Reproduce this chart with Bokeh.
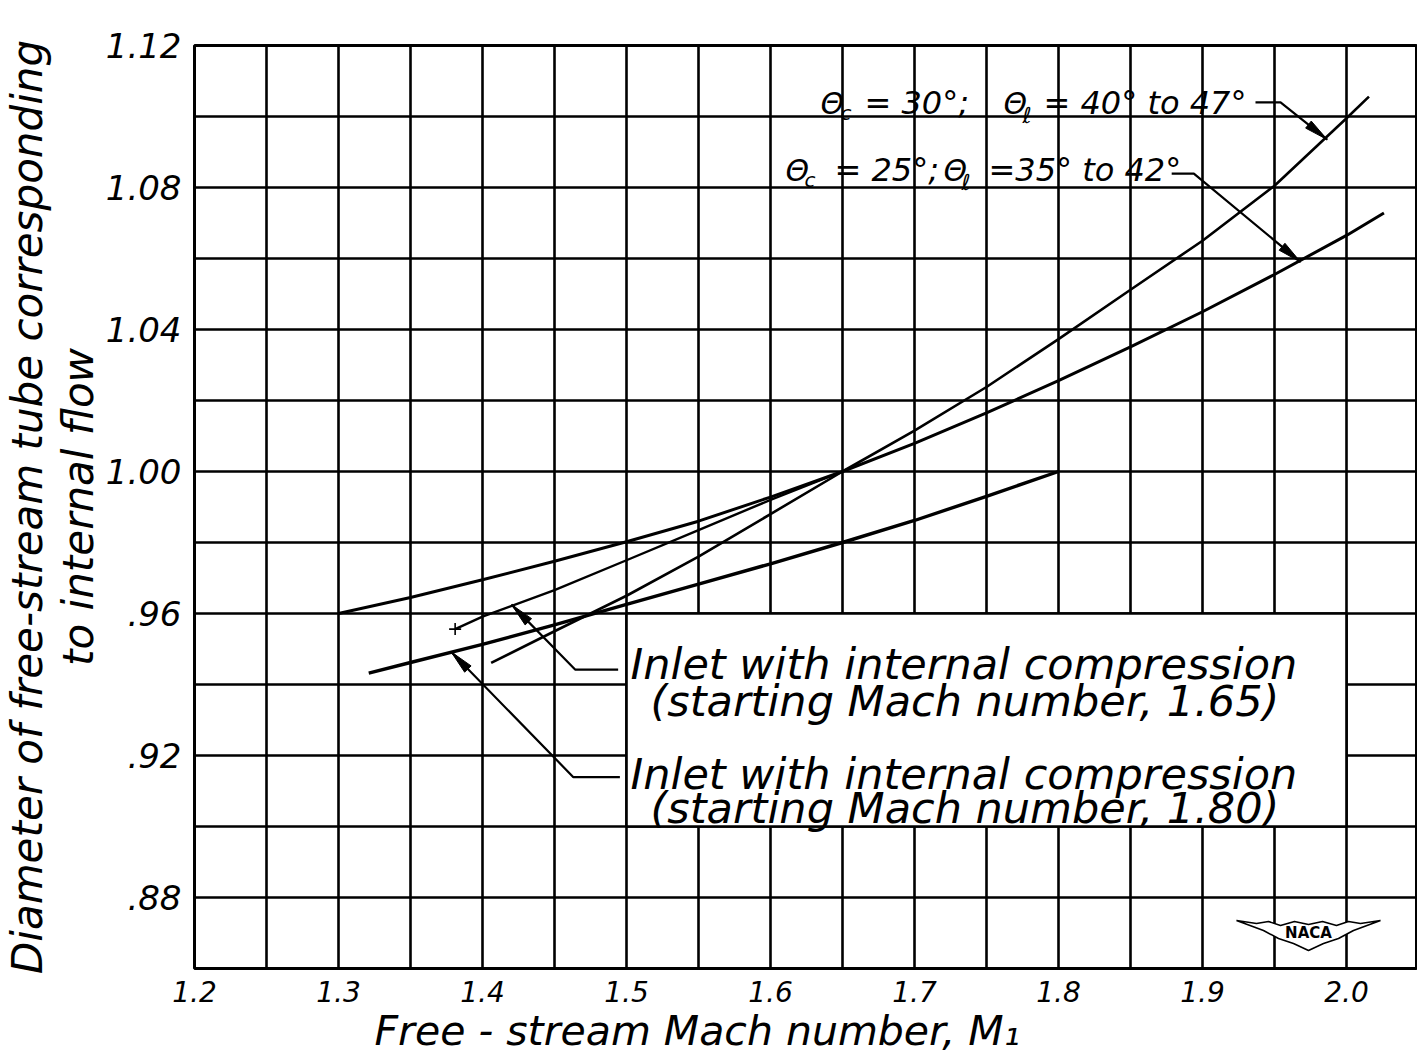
import math
from bokeh.plotting import figure
from bokeh.models import FixedTicker, ColumnDataSource, Title
from bokeh.core.properties import value
from bokeh.embed import file_html
from bokeh.resources import INLINE

# ---------------- data ----------------
# theta_c = 25 deg ; theta_l = 35 to 42 deg
M_25 = [1.30, 1.35, 1.40, 1.45, 1.50, 1.55, 1.60, 1.65, 1.70, 1.75, 1.80, 1.85, 1.90, 1.95, 2.00, 2.026]
D_25 = [0.9600, 0.9645, 0.9695, 0.9747, 0.9802, 0.9860, 0.9928, 1.0000, 1.0079, 1.0165, 1.0256, 1.0351, 1.0450, 1.0555, 1.0665, 1.0728]
# theta_c = 30 deg ; theta_l = 40 to 47 deg
M_30 = [1.406, 1.45, 1.50, 1.55, 1.60, 1.65, 1.70, 1.75, 1.80, 1.85, 1.90, 1.95, 2.00, 2.0156]
D_30 = [0.9461, 0.9550, 0.9650, 0.9760, 0.9880, 1.0000, 1.0115, 1.0238, 1.0373, 1.0512, 1.0650, 1.0805, 1.0995, 1.1056]
# inlet with internal compression, starting Mach number 1.65
M_165 = [1.381, 1.40, 1.45, 1.50, 1.55, 1.60, 1.65]
D_165 = [0.9556, 0.9591, 0.9666, 0.9750, 0.9835, 0.9920, 1.0000]
# inlet with internal compression, starting Mach number 1.80
M_180 = [1.321, 1.35, 1.40, 1.45, 1.50, 1.55, 1.60, 1.65, 1.70, 1.75, 1.80]
D_180 = [0.9432, 0.9462, 0.9513, 0.9568, 0.9626, 0.9683, 0.9740, 0.9800, 0.9862, 0.9930, 1.0000]

X_TICKS = [1.2, 1.3, 1.4, 1.5, 1.6, 1.7, 1.8, 1.9, 2.0]
X_TICK_LABELS = ["1.2", "1.3", "1.4", "1.5", "1.6", "1.7", "1.8", "1.9", "2.0"]
Y_TICKS = [0.88, 0.92, 0.96, 1.00, 1.04, 1.08, 1.12]
Y_TICK_LABELS = [".88", ".92", ".96", "1.00", "1.04", "1.08", "1.12"]

X_LABEL = "Free - stream  Mach number, M\u2081"
Y_LABEL_1 = "Diameter of free-stream tube corresponding"
Y_LABEL_2 = "to internal flow"
NOTE_165 = ["Inlet with internal compression", "(starting Mach number, 1.65)"]
NOTE_180 = ["Inlet with internal compression", "(starting Mach number, 1.80)"]

# ---------------- layout ----------------
W, H = 1417, 1055
L_B, R_B, T_B, B_B = 194, 0, 45, 87
X0, PXX = 1.2, 1440.0
Y0, Y1 = 0.86, 1.12
FW, FH = W - L_B - R_B, H - T_B - B_B
X1 = X0 + FW / PXX
PXY = FH / (Y1 - Y0)
BASE_FIX = 0.36  # empirical shift of the alphabetic baseline (fraction of font size)


def px2x(px):
    return X0 + (px - L_B) / PXX


def py2y(py):
    return Y1 - (py - T_B) / PXY


def base_y(py, size):
    return py2y(py - BASE_FIX * size)


FONT = "DejaVu Sans"

p = figure(width=W, height=H, x_range=(X0, X1), y_range=(Y0, Y1),
           output_backend="svg", toolbar_location=None,
           min_border_left=L_B, min_border_right=R_B,
           min_border_top=T_B, min_border_bottom=B_B)
p.background_fill_color = "white"
p.border_fill_color = "white"
p.outline_line_color = "black"
p.outline_line_width = 3

# grid every 0.05 in M and 0.02 in diameter
p.xgrid.ticker = FixedTicker(ticks=[round(1.2 + 0.05 * i, 2) for i in range(18)])
p.ygrid.ticker = FixedTicker(ticks=[round(0.86 + 0.02 * i, 2) for i in range(14)])
p.grid.grid_line_color = "black"
p.grid.grid_line_width = 2.6
p.grid.grid_line_alpha = 1.0

p.xaxis.ticker = FixedTicker(ticks=X_TICKS)
p.yaxis.ticker = FixedTicker(ticks=Y_TICKS)
p.xaxis.major_label_overrides = dict(zip(X_TICKS, X_TICK_LABELS))
p.yaxis.major_label_overrides = dict(zip(Y_TICKS, Y_TICK_LABELS))
p.axis.axis_line_color = None
p.axis.major_tick_line_color = None
p.axis.minor_tick_line_color = None
p.axis.major_label_text_font = FONT
p.axis.major_label_text_font_style = "italic"
p.axis.major_label_text_color = "black"
p.xaxis.major_label_text_font_size = "28px"
p.yaxis.major_label_text_font_size = "34px"
p.xaxis.major_label_standoff = 6
p.yaxis.major_label_standoff = 7

# axis titles
p.add_layout(Title(text=X_LABEL, align="left", offset=180, text_font=FONT, text_font_style="italic",
                   text_font_size="41px", text_color="black", standoff=0), "below")
p.add_layout(Title(text=Y_LABEL_2, align="center", text_font=FONT, text_font_style="italic",
                   text_font_size="42px", text_color="black", standoff=0), "left")
p.add_layout(Title(text=Y_LABEL_1, align="center", text_font=FONT, text_font_style="italic",
                   text_font_size="42px", text_color="black", standoff=0), "left")

# white label box (hides grid inside)
p.quad(left=[1.50], right=[2.00], bottom=[0.90], top=[0.96],
       fill_color="white", line_color="black", line_width=2.6)

# curves
p.line(M_25, D_25, line_color="black", line_width=3.0)
p.line(M_30, D_30, line_color="black", line_width=2.6)
p.line(M_165, D_165, line_color="black", line_width=2.4)
p.line(M_180, D_180, line_color="black", line_width=3.4)
p.scatter([M_165[0]], [D_165[0]], marker="cross", size=12,
          line_color="black", line_width=1.6)

# leaders
LEAD_30_X, LEAD_30_Y = [1.9368, 1.9542, 1.9866], [1.1040, 1.1040, 1.0935]
LEAD_25_X, LEAD_25_Y = [1.8786, 1.8940, 1.9681], [1.0839, 1.0839, 1.0590]
LEAD_165_X, LEAD_165_Y = [1.4942, 1.4643, 1.4202], [0.9442, 0.9442, 0.9625]
LEAD_180_X, LEAD_180_Y = [1.4954, 1.4631, 1.3782], [0.9139, 0.9139, 0.9492]
leads = [(LEAD_30_X, LEAD_30_Y), (LEAD_25_X, LEAD_25_Y),
         (LEAD_165_X, LEAD_165_Y), (LEAD_180_X, LEAD_180_Y)]
p.multi_line(xs=[l[0] for l in leads], ys=[l[1] for l in leads],
             line_color="black", line_width=2.2)


def head(xs, ys, L=24, w=4.5):
    tx, ty = xs[-1], ys[-1]
    fx, fy = xs[-2], ys[-2]
    dx, dy = (fx - tx) * PXX, (fy - ty) * PXY
    n = math.hypot(dx, dy)
    ux, uy = dx / n, dy / n
    nx, ny = -uy * w, ux * w
    hx = [tx, tx + (L * ux + nx) / PXX, tx + (L * ux - nx) / PXX]
    hy = [ty, ty + (L * uy + ny) / PXY, ty + (L * uy - ny) / PXY]
    return hx, hy


heads = [head(*l) for l in leads]
p.patches(xs=[h[0] for h in heads], ys=[h[1] for h in heads],
          fill_color="black", line_color="black", line_width=1)

# theta labels (composed with subscripts)
pieces = [
    ("\u0398", 820, 114, 30), ("c", 840, 120, 20), ("= 30\u00b0;", 864, 114, 32),
    ("\u0398", 1003, 114, 30), ("\u2113", 1022, 123, 22), ("= 40\u00b0 to 47\u00b0", 1043, 114, 32),
    ("\u0398", 785, 181, 30), ("c", 804, 187, 20), ("= 25\u00b0;", 834, 181, 32),
    ("\u0398", 943, 181, 30), ("\u2113", 961, 190, 22), ("=35\u00b0 to 42\u00b0", 988, 181, 32),
]
src = ColumnDataSource(dict(x=[px2x(a[1]) for a in pieces],
                            y=[base_y(a[2], a[3]) for a in pieces],
                            text=[a[0] for a in pieces],
                            size=["%dpx" % a[3] for a in pieces]))
p.text(x="x", y="y", text="text", source=src, text_font=value(FONT), text_font_style="italic",
       text_font_size="size", text_align="left", text_baseline="alphabetic", text_color="black")

# internal compression notes
NOTE_SIZE = 43
notes = [(NOTE_165[0], 630, 679), (NOTE_165[1], 650, 716),
         (NOTE_180[0], 630, 789), (NOTE_180[1], 650, 823)]
p.text(x=[px2x(n[1]) for n in notes], y=[base_y(n[2], NOTE_SIZE) for n in notes],
       text=[n[0] for n in notes],
       text_font=value(FONT), text_font_style="italic", text_font_size="%dpx" % NOTE_SIZE,
       text_align="left", text_baseline="alphabetic", text_color="black")

# NACA logo
cx, cy = 1308, 933
logo = [(-72, -13), (-52, -10), (-40, -12), (-28, -8), (-14, -12), (0, -9), (14, -12), (28, -8),
        (40, -12), (52, -10), (72, -13), (45, -3), (30, 5), (15, 10), (0, 17), (-15, 10), (-30, 5), (-45, -3)]
p.patch([px2x(cx + a) for a, b in logo], [py2y(cy + b) for a, b in logo],
        fill_color="white", line_color="black", line_width=1.6)
p.text(x=[px2x(cx)], y=[py2y(cy - 1)], text=["NACA"], text_font=value("DejaVu Sans"),
       text_font_style="bold", text_font_size="15px", text_align="center",
       text_baseline="middle", text_color="black")

open("out.html", "w").write(file_html(p, INLINE))
